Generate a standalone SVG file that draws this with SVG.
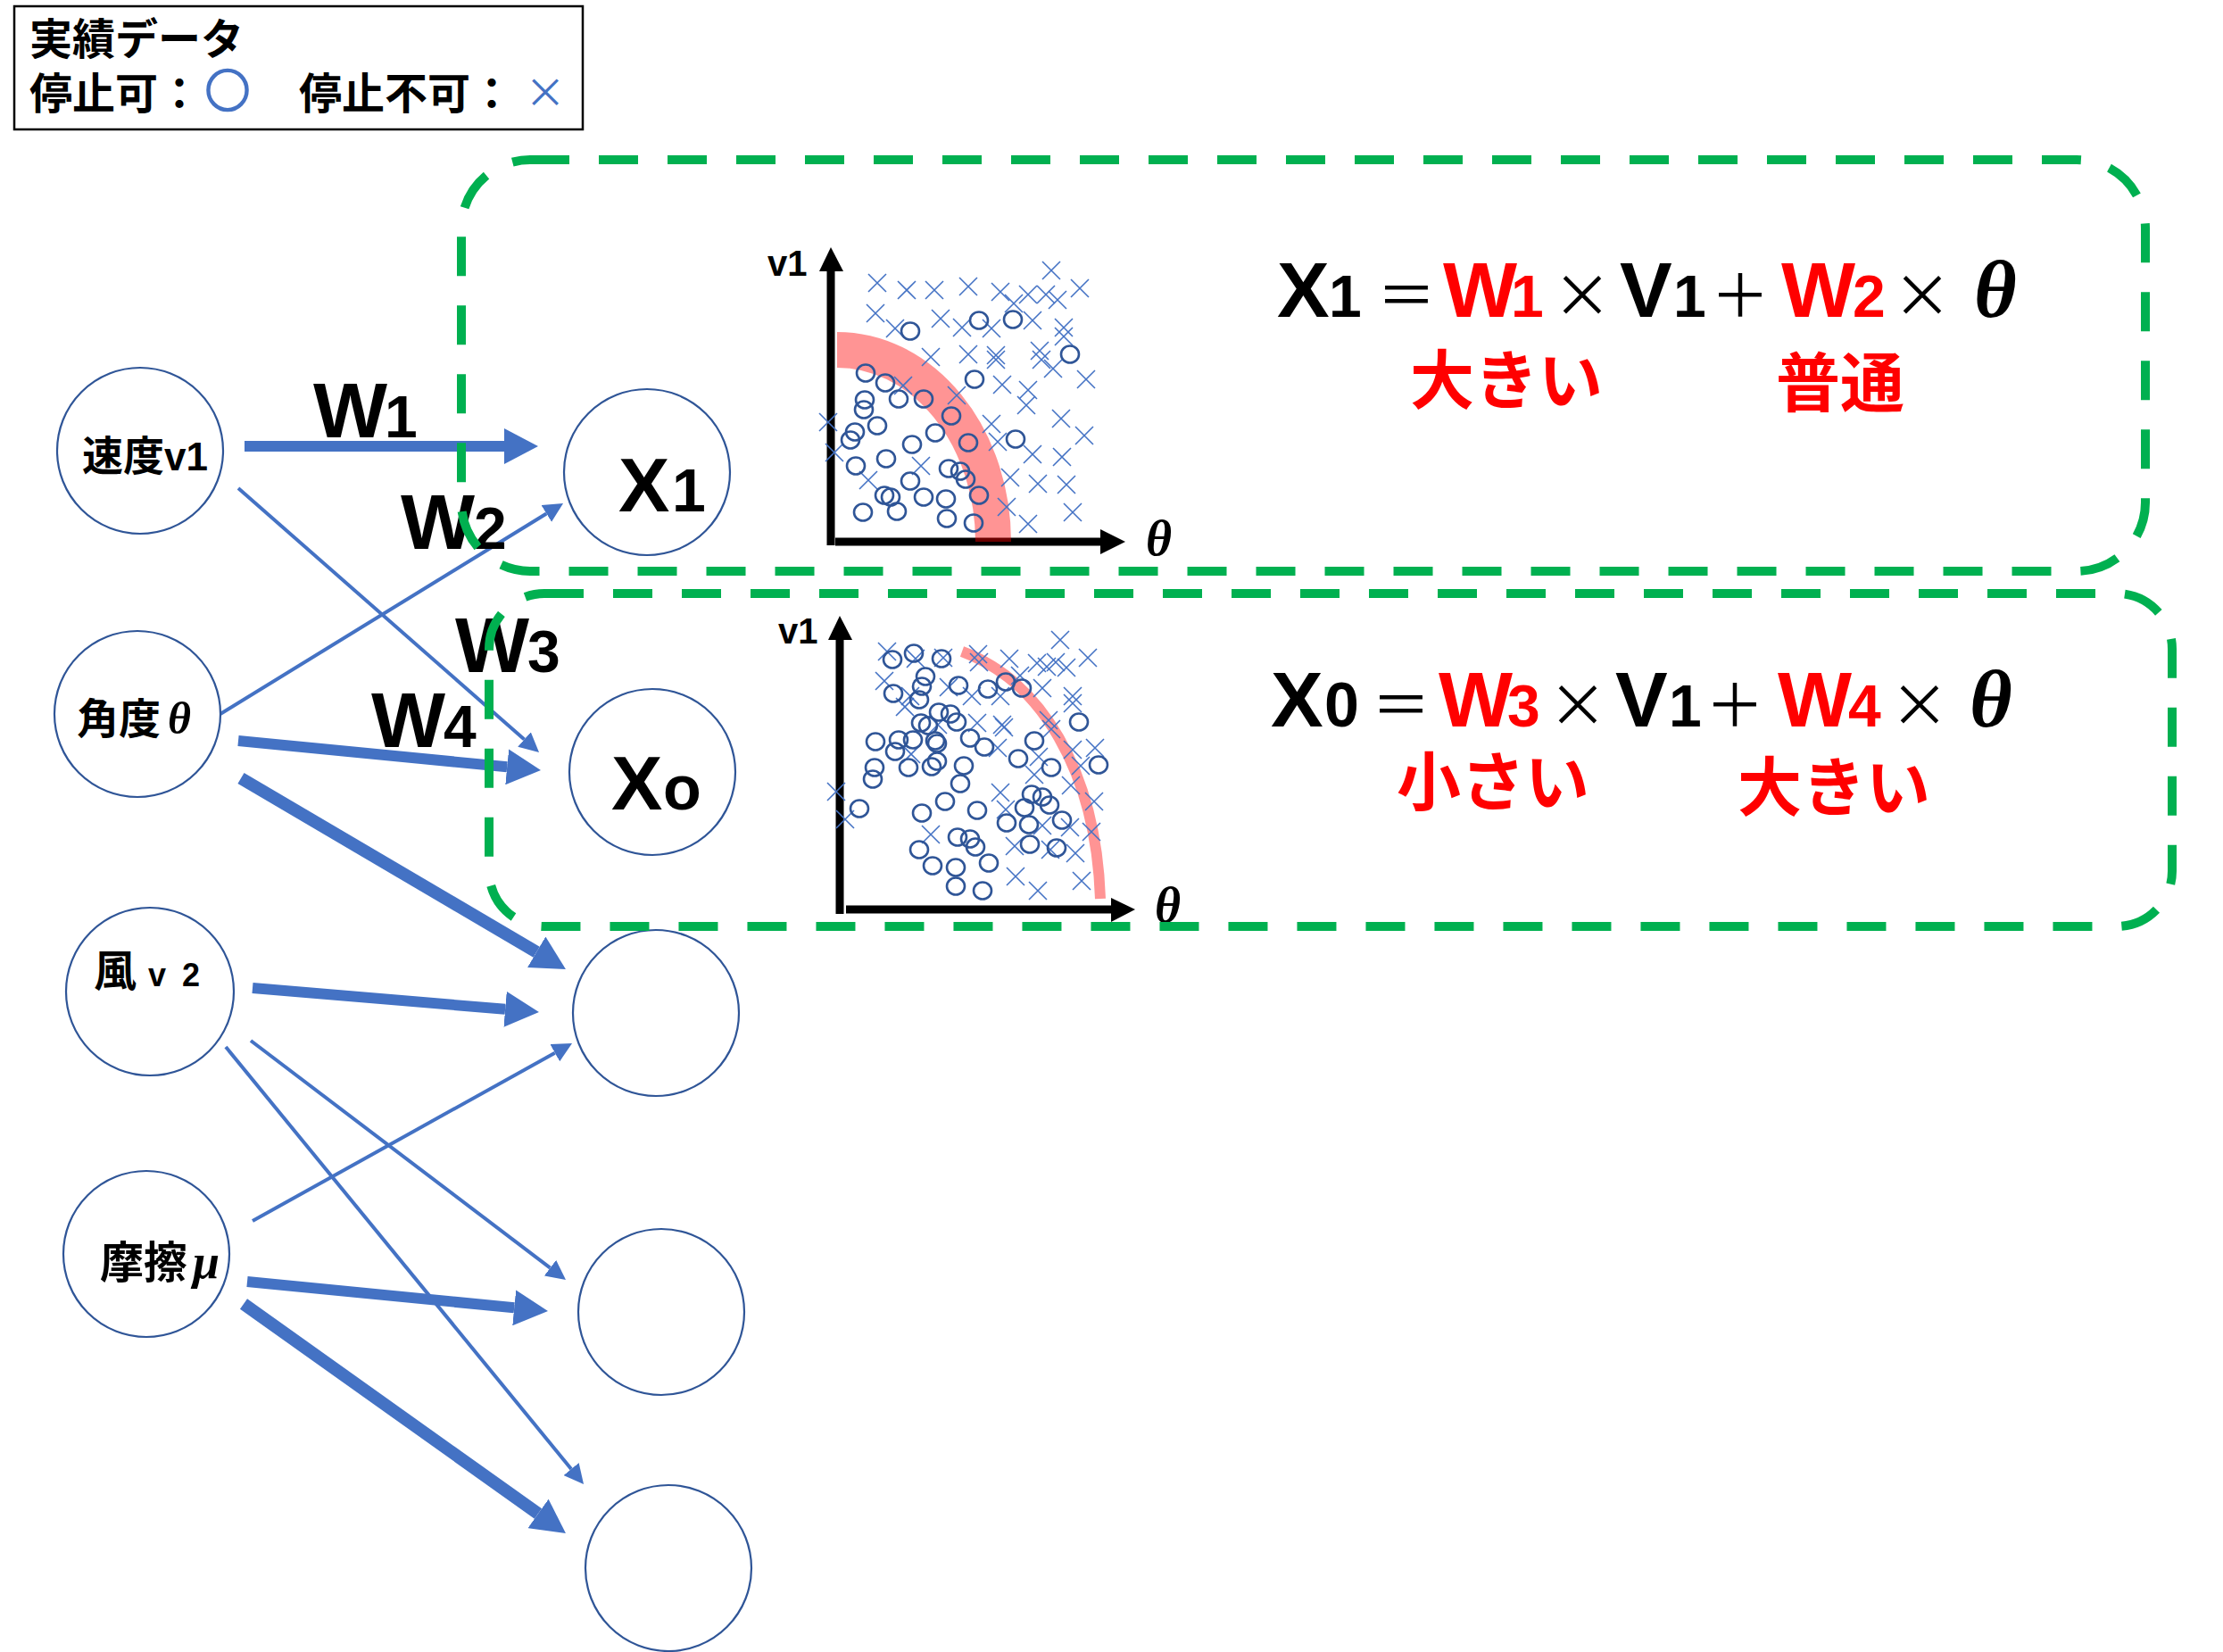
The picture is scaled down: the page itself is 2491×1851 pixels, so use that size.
<svg xmlns="http://www.w3.org/2000/svg" xmlns:xlink="http://www.w3.org/1999/xlink" width="2491" height="1851" viewBox="0 0 2491 1851">
<style>
.node{fill:#fff;stroke:#2F5597;stroke-width:2.2}
.cjk{font-family:"Noto Sans CJK JP","Noto Sans CJK SC",sans-serif}
.lat{font-family:"Liberation Sans Narrow","Liberation Sans",sans-serif;font-weight:bold}
.latb{font-family:"Liberation Sans","Noto Sans CJK JP",sans-serif;font-weight:bold}
.ser{font-family:"Liberation Serif",serif;font-style:italic;font-weight:bold}
.b{font-weight:bold}
.red{fill:#FF0000}
.thick{stroke:#4472C4;stroke-width:12;fill:none;marker-end:url(#ah-thick)}
.thicker{stroke:#4472C4;stroke-width:14;fill:none;marker-end:url(#ah-thick)}
.thin{stroke:#4472C4;stroke-width:4;fill:none;marker-end:url(#ah-thin)}
.gbox{fill:none;stroke:#00B050;stroke-width:10;stroke-dasharray:44 33}
.axis{stroke:#000;stroke-width:9;fill:none}
.band{fill:none;stroke:#FF0000;stroke-opacity:0.42}
.xm{stroke:#4472C4;stroke-width:1.6;fill:none}
.om{stroke:#2F5597;stroke-width:2.6;fill:none}
</style>
<defs>
<marker id="ah-thick" markerUnits="userSpaceOnUse" viewBox="0 -20 38 40" markerWidth="38" markerHeight="40" refX="0" refY="0" orient="auto"><path d="M0,-20 L38,0 L0,20 z" fill="#4472C4"/></marker>
<marker id="ah-thin" markerUnits="userSpaceOnUse" viewBox="0 -11 22 22" markerWidth="22" markerHeight="22" refX="0" refY="0" orient="auto"><path d="M0,-11 L22,0 L0,11 z" fill="#4472C4"/></marker>
<path id="xm" class="xm" d="M-10,-10 L10,10 M10,-10 L-10,10"/>
<ellipse id="om" class="om" cx="0" cy="0" rx="10" ry="9.5"/>
</defs>
<rect width="2491" height="1851" fill="#fff"/>

<g id="legend">
<rect x="16" y="7" width="637" height="138" fill="#fff" stroke="#000" stroke-width="2.5"/>
<text class="cjk b" x="33" y="61" font-size="48">実績データ</text>
<text class="cjk b" x="33" y="122" font-size="48">停止可：</text>
<text class="cjk" x="230" y="120" font-size="50" fill="#4472C4" stroke="#4472C4" stroke-width="2.5">○</text>
<text class="cjk b" x="335" y="122" font-size="48">停止不可：</text>
<text class="cjk" x="588" y="120" font-size="46" fill="#4472C4">×</text>
</g>

<g id="connectors">
<line class="thick" x1="274" y1="500" x2="565" y2="500"/>
<line class="thin" x1="267" y1="547" x2="587.5" y2="828.5"/>
<line class="thin" x1="242" y1="803" x2="612.3" y2="575.5"/>
<line class="thick" x1="267" y1="830" x2="568.2" y2="859.3"/>
<line class="thicker" x1="270" y1="872" x2="601.2" y2="1066.7"/>
<line class="thick" x1="283" y1="1107" x2="566.1" y2="1130.8"/>
<line class="thin" x1="281" y1="1166" x2="616.5" y2="1420.7"/>
<line class="thin" x1="253" y1="1173" x2="640.1" y2="1646"/>
<line class="thin" x1="283" y1="1368" x2="621.8" y2="1179.7"/>
<line class="thick" x1="277" y1="1436" x2="576.2" y2="1465.3"/>
<line class="thicker" x1="273" y1="1461" x2="603" y2="1696"/>
</g>

<g id="n-speed">
<circle class="node" cx="157" cy="505" r="93"/>
<text x="92" y="527"><tspan class="cjk b" font-size="46">速度</tspan><tspan class="lat" font-size="44">v1</tspan></text>
</g>
<g id="n-angle">
<circle class="node" cx="154" cy="800" r="93"/>
<text x="86" y="822"><tspan class="cjk b" font-size="47">角度</tspan><tspan class="ser" font-size="50" dx="8">θ</tspan></text>
</g>
<g id="n-wind">
<circle class="node" cx="168" cy="1111" r="94"/>
<text x="105" y="1105"><tspan class="cjk b" font-size="48">風</tspan><tspan class="latb" font-size="36" x="166">v</tspan><tspan class="latb" font-size="36" x="204">2</tspan></text>
</g>
<g id="n-friction">
<circle class="node" cx="164" cy="1405" r="93"/>
<text x="112" y="1432"><tspan class="cjk b" font-size="49">摩擦</tspan><tspan class="ser" font-size="54" x="216">μ</tspan></text>
</g>
<g id="n-x1">
<circle class="node" cx="725" cy="529" r="93"/>
<text x="693" y="573" class="latb"><tspan font-size="86">X</tspan><tspan font-size="68" x="753">1</tspan></text>
</g>
<g id="n-xo">
<circle class="node" cx="731" cy="865" r="93"/>
<text x="685" y="907" class="latb"><tspan font-size="86">X</tspan><tspan font-size="70" x="743">o</tspan></text>
</g>
<g id="n-h3"><circle class="node" cx="735" cy="1135" r="93"/></g>
<g id="n-h4"><circle class="node" cx="741" cy="1470" r="93"/></g>
<g id="n-h5"><circle class="node" cx="749" cy="1757" r="93"/></g>

<g id="weights" class="latb">
<text y="490"><tspan x="351" font-size="88">W</tspan><tspan x="431" font-size="66">1</tspan></text>
<text y="615"><tspan x="449" font-size="88">W</tspan><tspan x="531" font-size="66">2</tspan></text>
<text y="753"><tspan x="510" font-size="88">W</tspan><tspan x="591" font-size="66">3</tspan></text>
<text y="837"><tspan x="416" font-size="88">W</tspan><tspan x="497" font-size="66">4</tspan></text>
</g>

<g id="plot1">
<line class="axis" x1="931" y1="611" x2="931" y2="300"/>
<polygon points="918,304 931,277 945,304" fill="#000"/>
<line class="axis" x1="936" y1="607" x2="1236" y2="607"/>
<polygon points="1233,593 1261,607 1233,621" fill="#000"/>
<text class="latb" x="860" y="309" font-size="40">v1</text>
<text class="ser" x="1284" y="622" font-size="56">θ</text>
<path class="band" stroke-width="40" d="M938,392 A175,215 0 0 1 1113,607"/>
<g>
<use xlink:href="#xm" x="983" y="317"/><use xlink:href="#xm" x="1016" y="325"/><use xlink:href="#xm" x="1047" y="325"/><use xlink:href="#xm" x="1085" y="321"/><use xlink:href="#xm" x="1121" y="327"/><use xlink:href="#xm" x="1152" y="330"/><use xlink:href="#xm" x="1172" y="330"/><use xlink:href="#xm" x="1185" y="336"/><use xlink:href="#xm" x="1178" y="303"/><use xlink:href="#xm" x="1210" y="323"/><use xlink:href="#xm" x="981" y="351"/><use xlink:href="#xm" x="1003" y="368"/><use xlink:href="#xm" x="1054" y="357"/><use xlink:href="#xm" x="1078" y="367"/><use xlink:href="#xm" x="1111" y="368"/><use xlink:href="#xm" x="1136" y="340"/><use xlink:href="#xm" x="1157" y="359"/><use xlink:href="#xm" x="1192" y="367"/><use xlink:href="#xm" x="1192" y="377"/><use xlink:href="#xm" x="1043" y="400"/><use xlink:href="#xm" x="1085" y="397"/><use xlink:href="#xm" x="1116" y="398"/><use xlink:href="#xm" x="1116" y="403"/><use xlink:href="#xm" x="1165" y="393"/><use xlink:href="#xm" x="1167" y="403"/><use xlink:href="#xm" x="1180" y="413"/><use xlink:href="#xm" x="1217" y="425"/><use xlink:href="#xm" x="1012" y="432"/><use xlink:href="#xm" x="1072" y="443"/><use xlink:href="#xm" x="1123" y="431"/><use xlink:href="#xm" x="1152" y="437"/><use xlink:href="#xm" x="1150" y="454"/><use xlink:href="#xm" x="928" y="473"/><use xlink:href="#xm" x="935" y="507"/><use xlink:href="#xm" x="1111" y="475"/><use xlink:href="#xm" x="1189" y="469"/><use xlink:href="#xm" x="1215" y="488"/><use xlink:href="#xm" x="1118" y="495"/><use xlink:href="#xm" x="1157" y="509"/><use xlink:href="#xm" x="1190" y="512"/><use xlink:href="#xm" x="1032" y="522"/><use xlink:href="#xm" x="973" y="538"/><use xlink:href="#xm" x="1132" y="535"/><use xlink:href="#xm" x="1163" y="542"/><use xlink:href="#xm" x="1195" y="543"/><use xlink:href="#xm" x="1128" y="568"/><use xlink:href="#xm" x="1152" y="587"/><use xlink:href="#xm" x="1202" y="574"/>
</g>
<g>
<use xlink:href="#om" x="1020" y="371"/><use xlink:href="#om" x="1097" y="359"/><use xlink:href="#om" x="1135" y="358"/><use xlink:href="#om" x="1199" y="397"/><use xlink:href="#om" x="970" y="418"/><use xlink:href="#om" x="992" y="429"/><use xlink:href="#om" x="1092" y="425"/><use xlink:href="#om" x="969" y="448"/><use xlink:href="#om" x="968" y="459"/><use xlink:href="#om" x="1007" y="447"/><use xlink:href="#om" x="1035" y="447"/><use xlink:href="#om" x="1066" y="466"/><use xlink:href="#om" x="983" y="477"/><use xlink:href="#om" x="958" y="484"/><use xlink:href="#om" x="953" y="493"/><use xlink:href="#om" x="1048" y="485"/><use xlink:href="#om" x="1022" y="498"/><use xlink:href="#om" x="1085" y="496"/><use xlink:href="#om" x="1138" y="492"/><use xlink:href="#om" x="993" y="514"/><use xlink:href="#om" x="959" y="522"/><use xlink:href="#om" x="1063" y="525"/><use xlink:href="#om" x="1076" y="528"/><use xlink:href="#om" x="1082" y="537"/><use xlink:href="#om" x="1020" y="539"/><use xlink:href="#om" x="991" y="555"/><use xlink:href="#om" x="998" y="557"/><use xlink:href="#om" x="1035" y="557"/><use xlink:href="#om" x="1060" y="559"/><use xlink:href="#om" x="1097" y="555"/><use xlink:href="#om" x="967" y="574"/><use xlink:href="#om" x="1005" y="573"/><use xlink:href="#om" x="1061" y="581"/><use xlink:href="#om" x="1091" y="586"/>
</g>
</g>

<g id="plot2">
<line class="axis" x1="941" y1="1024" x2="941" y2="713"/>
<polygon points="928,717 941,690 955,717" fill="#000"/>
<line class="axis" x1="948" y1="1019" x2="1248" y2="1019"/>
<polygon points="1245,1006 1272,1019 1245,1033" fill="#000"/>
<text class="latb" x="872" y="721" font-size="40">v1</text>
<text class="ser" x="1294" y="1033" font-size="56">θ</text>
<path class="band" stroke-width="12" d="M1078,730 C1165,762 1228,862 1233,1007"/>
<g>
<use xlink:href="#xm" x="994" y="730"/><use xlink:href="#xm" x="1026" y="738"/><use xlink:href="#xm" x="1057" y="737"/><use xlink:href="#xm" x="1096" y="733"/><use xlink:href="#xm" x="1131" y="738"/><use xlink:href="#xm" x="1162" y="743"/><use xlink:href="#xm" x="1173" y="747"/><use xlink:href="#xm" x="1183" y="742"/><use xlink:href="#xm" x="1195" y="748"/><use xlink:href="#xm" x="1188" y="717"/><use xlink:href="#xm" x="1219" y="737"/><use xlink:href="#xm" x="991" y="763"/><use xlink:href="#xm" x="1014" y="792"/><use xlink:href="#xm" x="1020" y="780"/><use xlink:href="#xm" x="1063" y="770"/><use xlink:href="#xm" x="1089" y="780"/><use xlink:href="#xm" x="1121" y="780"/><use xlink:href="#xm" x="1168" y="771"/><use xlink:href="#xm" x="1202" y="780"/><use xlink:href="#xm" x="1202" y="788"/><use xlink:href="#xm" x="1143" y="757"/><use xlink:href="#xm" x="1097" y="742"/><use xlink:href="#xm" x="1095" y="810"/><use xlink:href="#xm" x="1123" y="812"/><use xlink:href="#xm" x="1125" y="815"/><use xlink:href="#xm" x="1175" y="807"/><use xlink:href="#xm" x="1178" y="817"/><use xlink:href="#xm" x="1202" y="840"/><use xlink:href="#xm" x="1227" y="838"/><use xlink:href="#xm" x="1021" y="845"/><use xlink:href="#xm" x="1051" y="812"/><use xlink:href="#xm" x="1118" y="838"/><use xlink:href="#xm" x="1164" y="848"/><use xlink:href="#xm" x="1159" y="868"/><use xlink:href="#xm" x="1211" y="858"/><use xlink:href="#xm" x="937" y="887"/><use xlink:href="#xm" x="947" y="918"/><use xlink:href="#xm" x="1121" y="888"/><use xlink:href="#xm" x="1200" y="880"/><use xlink:href="#xm" x="1226" y="898"/><use xlink:href="#xm" x="1127" y="907"/><use xlink:href="#xm" x="1168" y="925"/><use xlink:href="#xm" x="1199" y="927"/><use xlink:href="#xm" x="1223" y="932"/><use xlink:href="#xm" x="1043" y="935"/><use xlink:href="#xm" x="1137" y="948"/><use xlink:href="#xm" x="1177" y="952"/><use xlink:href="#xm" x="1205" y="956"/><use xlink:href="#xm" x="1138" y="982"/><use xlink:href="#xm" x="1163" y="998"/><use xlink:href="#xm" x="1212" y="987"/>
</g>
<g>
<use xlink:href="#om" x="1000" y="739"/><use xlink:href="#om" x="1024" y="732"/><use xlink:href="#om" x="1055" y="738"/><use xlink:href="#om" x="1037" y="758"/><use xlink:href="#om" x="1033" y="769"/><use xlink:href="#om" x="1001" y="777"/><use xlink:href="#om" x="1030" y="784"/><use xlink:href="#om" x="1074" y="768"/><use xlink:href="#om" x="1107" y="772"/><use xlink:href="#om" x="1127" y="764"/><use xlink:href="#om" x="1145" y="771"/><use xlink:href="#om" x="1052" y="798"/><use xlink:href="#om" x="1065" y="800"/><use xlink:href="#om" x="1072" y="809"/><use xlink:href="#om" x="1032" y="810"/><use xlink:href="#om" x="1040" y="813"/><use xlink:href="#om" x="981" y="831"/><use xlink:href="#om" x="1007" y="829"/><use xlink:href="#om" x="1023" y="829"/><use xlink:href="#om" x="1048" y="830"/><use xlink:href="#om" x="1050" y="833"/><use xlink:href="#om" x="1003" y="842"/><use xlink:href="#om" x="1087" y="827"/><use xlink:href="#om" x="1103" y="837"/><use xlink:href="#om" x="1159" y="830"/><use xlink:href="#om" x="1209" y="809"/><use xlink:href="#om" x="980" y="860"/><use xlink:href="#om" x="978" y="873"/><use xlink:href="#om" x="1018" y="860"/><use xlink:href="#om" x="1044" y="859"/><use xlink:href="#om" x="1050" y="853"/><use xlink:href="#om" x="1080" y="858"/><use xlink:href="#om" x="1141" y="850"/><use xlink:href="#om" x="1178" y="860"/><use xlink:href="#om" x="1231" y="857"/><use xlink:href="#om" x="1076" y="878"/><use xlink:href="#om" x="963" y="906"/><use xlink:href="#om" x="1033" y="911"/><use xlink:href="#om" x="1059" y="898"/><use xlink:href="#om" x="1095" y="908"/><use xlink:href="#om" x="1156" y="890"/><use xlink:href="#om" x="1168" y="893"/><use xlink:href="#om" x="1176" y="902"/><use xlink:href="#om" x="1148" y="905"/><use xlink:href="#om" x="1128" y="922"/><use xlink:href="#om" x="1153" y="924"/><use xlink:href="#om" x="1190" y="919"/><use xlink:href="#om" x="1073" y="938"/><use xlink:href="#om" x="1087" y="940"/><use xlink:href="#om" x="1093" y="949"/><use xlink:href="#om" x="1030" y="952"/><use xlink:href="#om" x="1154" y="946"/><use xlink:href="#om" x="1184" y="950"/><use xlink:href="#om" x="1045" y="970"/><use xlink:href="#om" x="1071" y="972"/><use xlink:href="#om" x="1108" y="967"/><use xlink:href="#om" x="1071" y="993"/><use xlink:href="#om" x="1101" y="998"/>
</g>
</g>

<g id="eq1">
<text y="355"><tspan class="lat" x="1431" font-size="88">X</tspan><tspan class="lat" x="1489" font-size="66">1</tspan><tspan class="cjk" x="1543" font-size="66">＝</tspan><tspan class="lat red" x="1617" font-size="88">W</tspan><tspan class="lat red" x="1693" font-size="66">1</tspan><tspan class="cjk" x="1740" font-size="66">×</tspan><tspan class="lat" x="1815" font-size="88">V</tspan><tspan class="lat" x="1875" font-size="66">1</tspan><tspan class="cjk" x="1917" font-size="66">＋</tspan><tspan class="lat red" x="1996" font-size="88">W</tspan><tspan class="lat red" x="2076" font-size="66">2</tspan><tspan class="cjk" x="2121" font-size="66">×</tspan><tspan class="ser" x="2212" font-size="92">θ</tspan></text>
<text class="cjk b red" x="1580" y="452" font-size="72">大きい</text>
<text class="cjk b red" x="1990" y="455" font-size="72">普通</text>
</g>

<g id="eq0">
<text y="814"><tspan class="lat" x="1424" font-size="88">X</tspan><tspan class="lat" x="1484" font-size="70">0</tspan><tspan class="cjk" x="1537" font-size="66">＝</tspan><tspan class="lat red" x="1612" font-size="88">W</tspan><tspan class="lat red" x="1689" font-size="66">3</tspan><tspan class="cjk" x="1735" font-size="66">×</tspan><tspan class="lat" x="1810" font-size="88">V</tspan><tspan class="lat" x="1870" font-size="66">1</tspan><tspan class="cjk" x="1911" font-size="66">＋</tspan><tspan class="lat red" x="1992" font-size="88">W</tspan><tspan class="lat red" x="2071" font-size="66">4</tspan><tspan class="cjk" x="2118" font-size="66">×</tspan><tspan class="ser" x="2207" font-size="92">θ</tspan></text>
<text class="cjk b red" x="1565" y="902" font-size="72">小さい</text>
<text class="cjk b red" x="1947" y="908" font-size="72">大きい</text>
</g>

<g id="group-boxes">
<rect id="box-x1" class="gbox" x="517" y="179" width="1887" height="461" rx="77" ry="77"/>
<rect id="box-xo" class="gbox" x="548" y="665" width="1886" height="373" rx="62" ry="62"/>
</g>
</svg>
